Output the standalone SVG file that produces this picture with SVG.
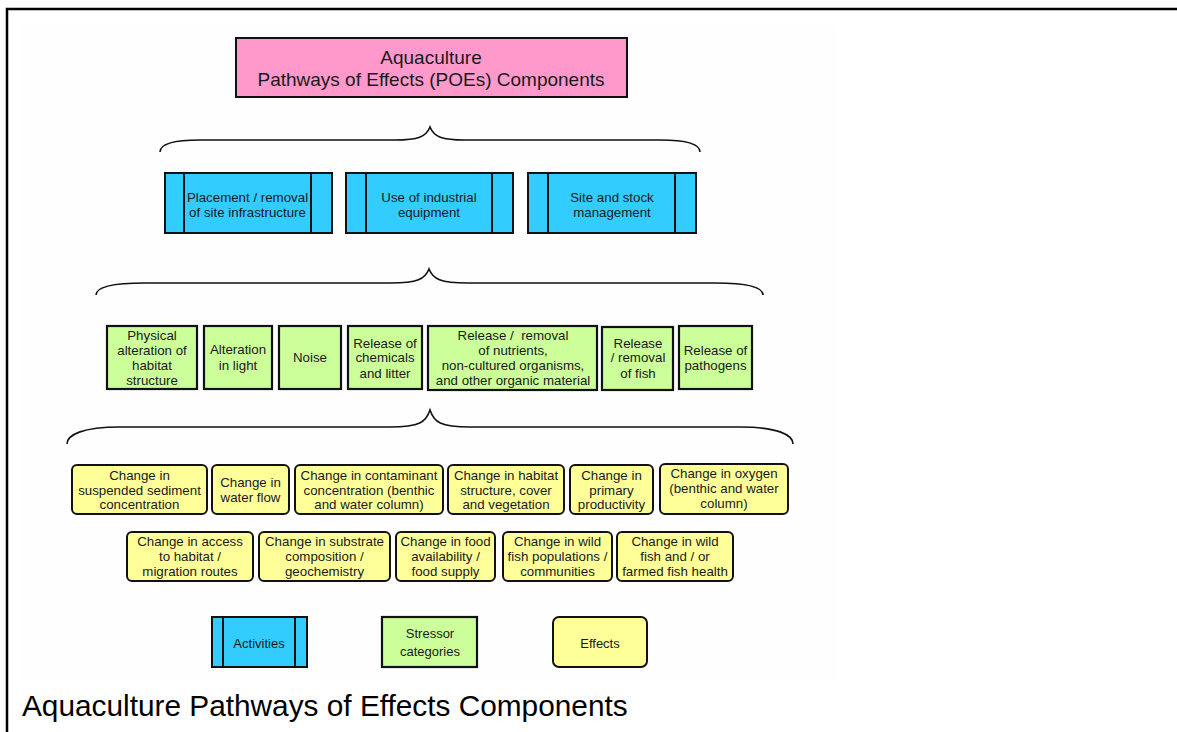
<svg xmlns="http://www.w3.org/2000/svg" width="1177" height="732" viewBox="0 0 1177 732">
<style>
text{font-family:"Liberation Sans",Arial,sans-serif;fill:#1a1a1a;text-anchor:middle}
.t{font-size:13.3px}
.act{fill:#33CCFF;stroke:#111;stroke-width:2}
.str{fill:#CCFF99;stroke:#111;stroke-width:2.2}
.eff{fill:#FFFF99;stroke:#111;stroke-width:2}
.ln{stroke:#111;stroke-width:2}
.brace{fill:none;stroke:#111;stroke-width:1.6}
</style>
<rect x="0" y="0" width="1177" height="732" fill="#fff"/>
<rect x="22" y="25" width="816" height="655" fill="#fefefe"/>
<path d="M7,732 V9 H1177" fill="none" stroke="#000" stroke-width="2.5"/>

<g id="title">
<rect x="236" y="38" width="391" height="59" fill="#FF99CC" stroke="#111" stroke-width="2"/>
<text x="431" y="63.5" font-size="19">Aquaculture</text>
<text x="431" y="86" font-size="19">Pathways of Effects (POEs) Components</text>
</g>

<g id="connectors">
<path class="brace" d="M160,152 C160,144 172,140 200,140 L395,140 C418,140 426,137 430,127 C434,137 442,140 465,140 L660,140 C688,140 700,144 700,152"/>
<path class="brace" d="M96,295 C96,288 110,283 145,283 L390,283 C418,283 425,279 429,269 C433,279 440,283 468,283 L715,283 C750,283 763,288 763,295"/>
<path class="brace" d="M67,444 C67,435 82,427 120,427 L390,427 C420,427 426,422 430,410 C434,422 440,427 470,427 L740,427 C778,427 793,435 793,444"/>
</g>

<g id="act1">
<rect class="act" x="165" y="173" width="167" height="60"/>
<path class="ln" d="M184,173 V233 M311,173 V233"/>
<text class="t" x="247.5" y="201.5">Placement / removal</text>
<text class="t" x="247.5" y="217">of site infrastructure</text>
</g>
<g id="act2">
<rect class="act" x="346" y="173" width="167" height="60"/>
<path class="ln" d="M366,173 V233 M492,173 V233"/>
<text class="t" x="429" y="201.5">Use of industrial</text>
<text class="t" x="429" y="217">equipment</text>
</g>
<g id="act3">
<rect class="act" x="528" y="173" width="168" height="60"/>
<path class="ln" d="M548,173 V233 M675,173 V233"/>
<text class="t" x="612" y="201.5">Site and stock</text>
<text class="t" x="612" y="217">management</text>
</g>

<g id="str1">
<rect class="str" x="107" y="326" width="90" height="63"/>
<text class="t" x="152" y="340">Physical</text>
<text class="t" x="152" y="355">alteration of</text>
<text class="t" x="152" y="370">habitat</text>
<text class="t" x="152" y="385">structure</text>
</g>
<g id="str2">
<rect class="str" x="204" y="326" width="68" height="63"/>
<text class="t" x="238" y="354">Alteration</text>
<text class="t" x="238" y="370">in light</text>
</g>
<g id="str3">
<rect class="str" x="279" y="326" width="62" height="63"/>
<text class="t" x="310" y="362">Noise</text>
</g>
<g id="str4">
<rect class="str" x="348" y="326" width="74" height="63"/>
<text class="t" x="385" y="347.5">Release of</text>
<text class="t" x="385" y="362">chemicals</text>
<text class="t" x="385" y="377.5">and litter</text>
</g>
<g id="str5">
<rect class="str" x="428" y="326" width="169" height="64"/>
<text class="t" x="513" y="340" xml:space="preserve">Release /  removal</text>
<text class="t" x="513" y="355">of nutrients,</text>
<text class="t" x="513" y="370">non-cultured organisms,</text>
<text class="t" x="513" y="385">and other organic material</text>
</g>
<g id="str6">
<rect class="str" x="602" y="327" width="71" height="63"/>
<text class="t" x="638" y="347.5">Release</text>
<text class="t" x="638" y="362">/ removal</text>
<text class="t" x="638" y="377.5">of fish</text>
</g>
<g id="str7">
<rect class="str" x="679" y="326" width="73" height="63"/>
<text class="t" x="715.5" y="355">Release of</text>
<text class="t" x="715.5" y="370">pathogens</text>
</g>

<g id="eff1">
<rect class="eff" x="72" y="465" width="135" height="49" rx="5"/>
<text class="t" x="139.5" y="480">Change in</text>
<text class="t" x="139.5" y="495">suspended sediment</text>
<text class="t" x="139.5" y="509">concentration</text>
</g>
<g id="eff2">
<rect class="eff" x="212" y="465" width="77" height="49" rx="5"/>
<text class="t" x="250.5" y="487">Change in</text>
<text class="t" x="250.5" y="502">water flow</text>
</g>
<g id="eff3">
<rect class="eff" x="295" y="465" width="148" height="49" rx="5"/>
<text class="t" x="369" y="480">Change in contaminant</text>
<text class="t" x="369" y="495">concentration (benthic</text>
<text class="t" x="369" y="509">and water column)</text>
</g>
<g id="eff4">
<rect class="eff" x="448" y="465" width="116" height="49" rx="5"/>
<text class="t" x="506" y="480">Change in habitat</text>
<text class="t" x="506" y="495">structure, cover</text>
<text class="t" x="506" y="509">and vegetation</text>
</g>
<g id="eff5">
<rect class="eff" x="570" y="465" width="83" height="49" rx="5"/>
<text class="t" x="611.5" y="480">Change in</text>
<text class="t" x="611.5" y="495">primary</text>
<text class="t" x="611.5" y="509">productivity</text>
</g>
<g id="eff6">
<rect class="eff" x="660" y="464" width="128" height="50" rx="5"/>
<text class="t" x="724" y="478">Change in oxygen</text>
<text class="t" x="724" y="493">(benthic and water</text>
<text class="t" x="724" y="508">column)</text>
</g>
<g id="eff7">
<rect class="eff" x="127" y="532" width="126" height="49" rx="5"/>
<text class="t" x="190" y="546">Change in access</text>
<text class="t" x="190" y="561">to habitat /</text>
<text class="t" x="190" y="576">migration routes</text>
</g>
<g id="eff8">
<rect class="eff" x="259" y="532" width="131" height="49" rx="5"/>
<text class="t" x="324.5" y="546">Change in substrate</text>
<text class="t" x="324.5" y="561">composition /</text>
<text class="t" x="324.5" y="576">geochemistry</text>
</g>
<g id="eff9">
<rect class="eff" x="396" y="532" width="99" height="49" rx="5"/>
<text class="t" x="445.5" y="546">Change in food</text>
<text class="t" x="445.5" y="561">availability /</text>
<text class="t" x="445.5" y="576">food supply</text>
</g>
<g id="eff10">
<rect class="eff" x="503" y="532" width="109" height="49" rx="5"/>
<text class="t" x="557.5" y="546">Change in wild</text>
<text class="t" x="557.5" y="561">fish populations /</text>
<text class="t" x="557.5" y="576">communities</text>
</g>
<g id="eff11">
<rect class="eff" x="617" y="532" width="116" height="49" rx="5"/>
<text class="t" x="675" y="546">Change in wild</text>
<text class="t" x="675" y="561">fish and / or</text>
<text class="t" x="675" y="576">farmed fish health</text>
</g>

<g id="legend-activities">
<rect class="act" x="212" y="617" width="95" height="50"/>
<path class="ln" d="M223,617 V667 M295,617 V667"/>
<text x="259" y="648" font-size="13">Activities</text>
</g>
<g id="legend-stressor">
<rect class="str" x="382" y="617" width="95" height="50"/>
<text x="430" y="638" font-size="13">Stressor</text>
<text x="430" y="656" font-size="13">categories</text>
</g>
<g id="legend-effects">
<rect class="eff" x="553" y="617" width="94" height="50" rx="6"/>
<text x="600" y="648" font-size="13">Effects</text>
</g>

<text x="22" y="716" font-size="29.8" style="text-anchor:start;fill:#000">Aquaculture Pathways of Effects Components</text>
</svg>
